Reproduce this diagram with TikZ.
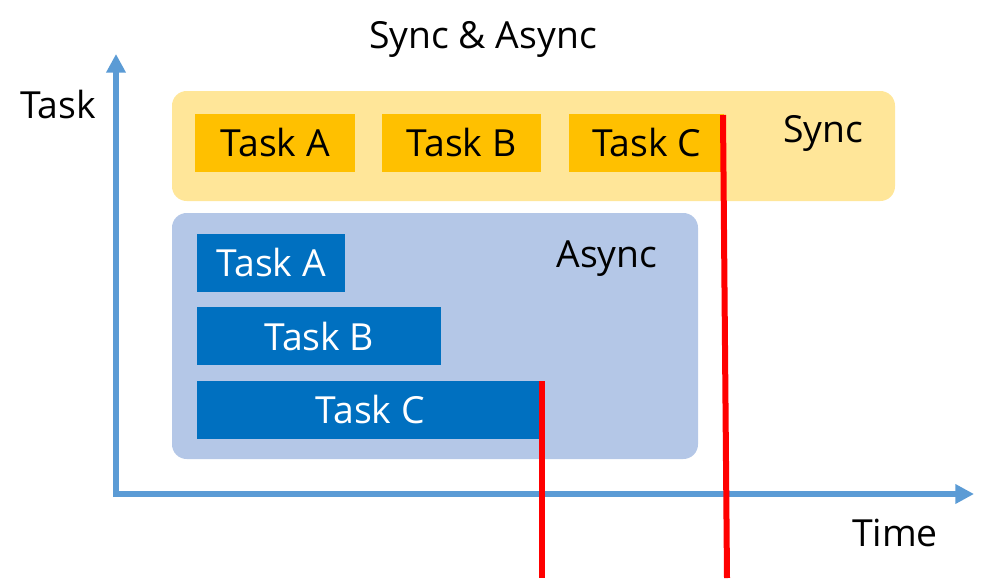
\documentclass[tikz,border=0pt]{standalone}
\usepackage{fontspec}
\setmainfont{Open Sans}
\usetikzlibrary{arrows.meta}
\definecolor{axisblue}{HTML}{5B9BD5}
\definecolor{syncbg}{HTML}{FFE699}
\definecolor{syncbox}{HTML}{FFC000}
\definecolor{asyncbg}{HTML}{B4C7E7}
\definecolor{asyncbox}{HTML}{0070C0}
\tikzset{
  lbl/.style={font=\fontsize{28}{32}\selectfont, inner sep=0pt},
  group/.style={rounded corners=11pt, draw=none},
  taskbox/.style={draw=none, inner sep=0pt},
  axisline/.style={axisblue, line width=3.8pt, -{Triangle[length=14pt,width=14pt]}},
  endline/.style={red, line width=4.5pt}
}
\begin{document}
\begin{tikzpicture}[x=0.75pt,y=-0.75pt]
\useasboundingbox (0,0) rectangle (992,582);
% groups
\fill[syncbg, group] (172,91) rectangle (895,201);
\fill[asyncbg, group] (172,213) rectangle (698,459);
% sync tasks
\node[taskbox, fill=syncbox, minimum width=120pt, minimum height=43pt, anchor=north west, lbl] (sa) at (195,114) {\raisebox{-2pt}{Task A}};
\node[taskbox, fill=syncbox, minimum width=119pt, minimum height=43pt, anchor=north west, lbl] (sb) at (382,114) {\raisebox{-2pt}{Task B}};
\node[taskbox, fill=syncbox, minimum width=116pt, minimum height=43pt, anchor=north west, lbl] (sc) at (569,114) {\raisebox{-2pt}{Task C}};
% async tasks
\node[taskbox, fill=asyncbox, text=white, minimum width=111pt, minimum height=43pt, anchor=north west, lbl] (aa) at (197,234) {\raisebox{-1pt}{Task A}};
\node[taskbox, fill=asyncbox, text=white, minimum width=183pt, minimum height=43.5pt, anchor=north west, lbl] (ab) at (197,307) {\raisebox{-1pt}{Task B}};
\node[taskbox, fill=asyncbox, text=white, minimum width=259.5pt, minimum height=43pt, anchor=north west, lbl] (ac) at (197,381) {\raisebox{-1pt}{Task C}};
% labels
\node[lbl] (sync) at (823,133) {Sync};
\node[lbl] (async) at (607,259) {Async};
\node[lbl] (title) at (483,39) {Sync \& Async};
\node[lbl] (tasklbl) at (58,104) {Task};
\node[lbl] (timelbl) at (895,533) {Time};
% axes
\coordinate (origin) at (116,495);
\coordinate (ytip) at (116,54);
\coordinate (xtip) at (974,494);
\draw[axisline] (116,497) -- (ytip);
\draw[axisline] (113,494) -- (xtip);
% end markers
\coordinate (r1top) at (542,381);
\coordinate (r1bot) at (542,578);
\coordinate (r2top) at (723,115);
\coordinate (r2bot) at (727,578);
\draw[endline] (r1top) -- (r1bot);
\draw[endline] (r2top) -- (r2bot);
\end{tikzpicture}
\end{document}
